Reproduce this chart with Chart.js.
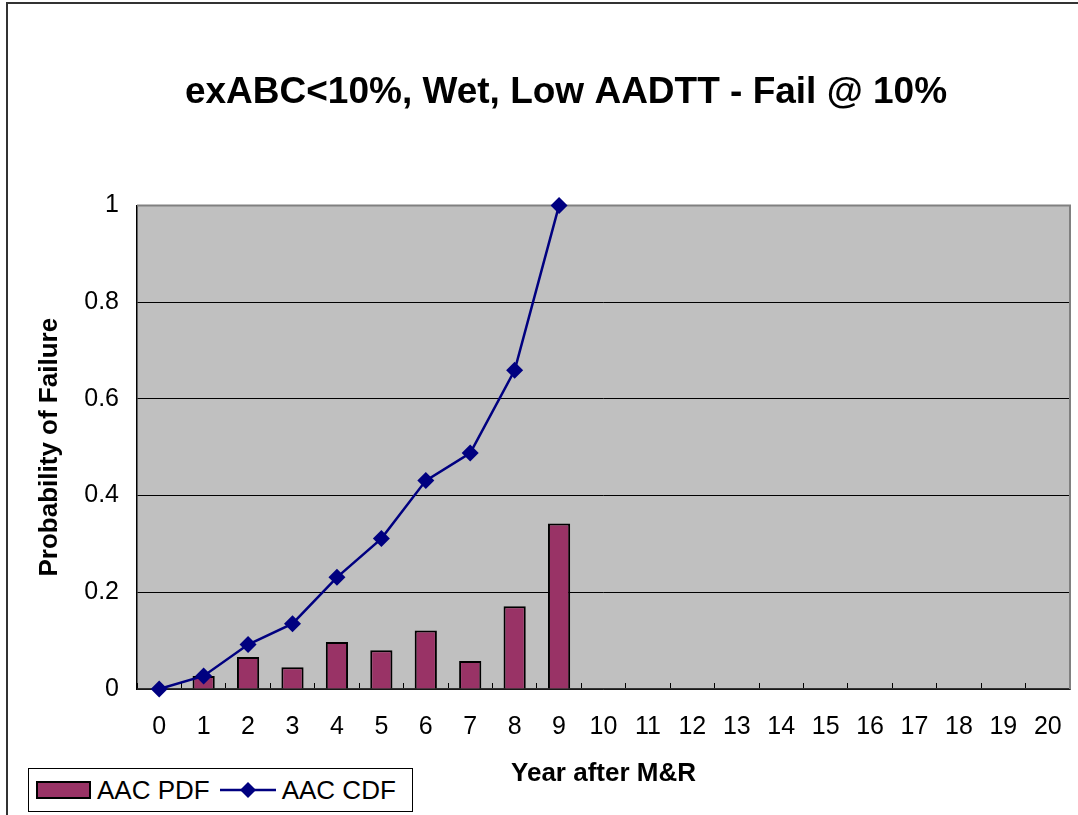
<!DOCTYPE html>
<html>
<head>
<meta charset="utf-8">
<script src="https://cdn.jsdelivr.net/npm/chart.js@4/dist/chart.umd.min.js"></script>
<style>
  html, body { margin: 0; padding: 0; background: #fff; overflow: hidden; }
  #frame { position: absolute; left: 6px; top: 2px; width: 1200px; height: 900px; border: 2px solid #333; }
  #wrap { position: absolute; left: 0; top: 0; width: 1132px; height: 815px; }
  #legend { position: absolute; left: 28px; top: 768px; width: 383px; height: 42px; border: 1.5px solid #000;
            background: #fff; font: 26px "Liberation Sans", Arial, sans-serif; color: #000;
            display: flex; align-items: center; box-sizing: content-box; }
  #legend .item { display: flex; align-items: center; }
  #legend .box { width: 51px; height: 14px; border: 2px solid #000; margin: 0 6px 0 7px; }
  #legend svg { margin: 0 6px 0 10px; }
</style>
</head>
<body>
<div id="frame"></div>
<div id="wrap"><canvas id="chart" width="1132" height="815"></canvas></div>
<div id="legend"></div>
<script>
var years = ['0','1','2','3','4','5','6','7','8','9','10','11','12','13','14','15','16','17','18','19','20'];
var pdfValues = [0, 0.027, 0.066, 0.045, 0.097, 0.080, 0.121, 0.058, 0.171, 0.342];
var cdfValues = [0, 0.027, 0.092, 0.135, 0.231, 0.311, 0.431, 0.488, 0.659, 1.0];

var barColor = '#993366';
var lineColor = '#000080';
var plotGray = '#C0C0C0';
var fontFamily = '"Liberation Sans", Arial, sans-serif';

Chart.defaults.color = '#000';
Chart.defaults.font.family = fontFamily;

var plotBackground = {
  id: 'plotBackground',
  beforeDraw: function(chart) {
    var a = chart.chartArea;
    var ctx = chart.ctx;
    ctx.save();
    ctx.fillStyle = plotGray;
    ctx.fillRect(a.left, a.top, a.right - a.left, a.bottom - a.top);
    ctx.restore();
  },
  beforeDatasetsDraw: function(chart) {
    var a = chart.chartArea;
    var ctx = chart.ctx;
    ctx.save();
    ctx.strokeStyle = '#808080';
    ctx.lineWidth = 2;
    ctx.beginPath();
    ctx.moveTo(a.left, a.top);
    ctx.lineTo(a.right, a.top);
    ctx.lineTo(a.right, a.bottom);
    ctx.stroke();
    ctx.restore();
  }
};

var ctx = document.getElementById('chart');
var chart = new Chart(ctx, {
  type: 'bar',
  data: {
    labels: years,
    datasets: [
      {
        type: 'bar',
        label: 'AAC PDF',
        data: pdfValues,
        backgroundColor: barColor,
        borderColor: '#000',
        borderWidth: 2,
        borderSkipped: 'bottom',
        barPercentage: 0.5,
        categoryPercentage: 1,
        order: 1
      },
      {
        type: 'line',
        label: 'AAC CDF',
        data: cdfValues,
        borderColor: lineColor,
        backgroundColor: lineColor,
        borderWidth: 2.5,
        pointStyle: 'rectRot',
        pointRadius: 8.5,
        pointBorderWidth: 0,
        tension: 0,
        clip: false,
        order: 0
      }
    ]
  },
  options: {
    responsive: false,
    animation: false,
    // left padding also centres the title like the original sheet
    layout: { padding: { left: 62, right: 62, top: 0, bottom: 0 } },
    plugins: {
      legend: { display: false },
      tooltip: { enabled: false },
      title: {
        display: true,
        text: 'exABC<10%, Wet, Low AADTT - Fail @ 10%',
        font: { size: 37, weight: 'bold' },
        color: '#000',
        padding: { top: 71, bottom: 90 }
      }
    },
    scales: {
      x: {
        offset: true,
        grid: { display: true, drawOnChartArea: false, drawTicks: true, tickLength: -6, tickColor: '#000', offset: true },
        border: { display: true, color: '#333', width: 1.5 },
        ticks: { font: { size: 25 }, padding: 29, maxRotation: 0, autoSkip: false, color: '#000' },
        title: { display: true, text: 'Year after M&R', font: { size: 26, weight: 'bold' }, padding: { top: 0, bottom: 26 } },
        afterFit: function(scale) { scale.height = 126; }
      },
      y: {
        min: 0,
        max: 1,
        ticks: {
          stepSize: 0.2,
          font: { size: 25 },
          padding: 18,
          color: '#000',
          callback: function(value) { return String(Number(value.toFixed(1))); }
        },
        grid: {
          drawTicks: false,
          color: function(c) { return c.tick && c.tick.value === 1 ? '#808080' : '#000'; },
          lineWidth: 1
        },
        border: { display: true, color: '#000', width: 1.5 },
        title: { display: true, text: 'Probability of Failure', font: { size: 26, weight: 'bold' }, padding: { top: -28, bottom: 0 } },
        afterFit: function(scale) { scale.width = 75; }
      }
    }
  },
  plugins: [plotBackground]
});

// legend drawn as html, from the dataset labels
var legend = document.getElementById('legend');
chart.data.datasets.forEach(function(ds) {
  var item = document.createElement('span');
  item.className = 'item';
  if (ds.type === 'bar') {
    var box = document.createElement('span');
    box.className = 'box';
    box.style.background = ds.backgroundColor;
    item.appendChild(box);
  } else {
    var ns = 'http://www.w3.org/2000/svg';
    var svg = document.createElementNS(ns, 'svg');
    svg.setAttribute('width', '56');
    svg.setAttribute('height', '20');
    var ln = document.createElementNS(ns, 'line');
    ln.setAttribute('x1', '0'); ln.setAttribute('y1', '10');
    ln.setAttribute('x2', '56'); ln.setAttribute('y2', '10');
    ln.setAttribute('stroke', ds.borderColor);
    ln.setAttribute('stroke-width', '2.5');
    var dm = document.createElementNS(ns, 'polygon');
    dm.setAttribute('points', '28,2 36,10 28,18 20,10');
    dm.setAttribute('fill', ds.borderColor);
    svg.appendChild(ln);
    svg.appendChild(dm);
    item.appendChild(svg);
  }
  var txt = document.createElement('span');
  txt.textContent = ds.label;
  item.appendChild(txt);
  legend.appendChild(item);
});
</script>
</body>
</html>
